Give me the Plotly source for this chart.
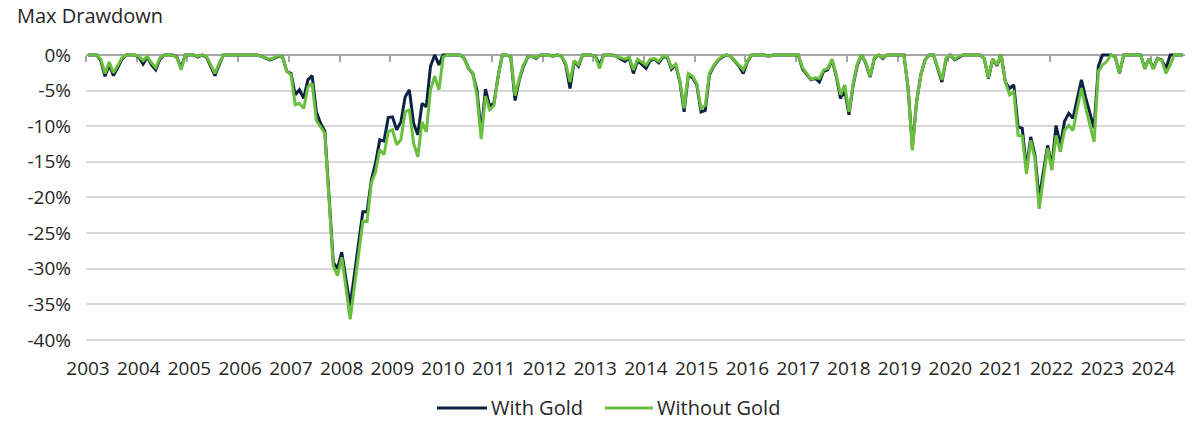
import plotly.graph_objects as go

# Monthly max drawdown (%), one row per label-year
with_gold = [
    0, 0, 0, -0.8, -3.0, -1.4, -2.9, -1.8, -0.6, 0, 0, 0,
    -0.3, -1.3, -0.3, -1.4, -2.1, -0.6, 0, 0, 0, -0.3, -1.8, 0,
    0, 0, -0.3, 0, -0.3, -1.6, -2.9, -1.4, 0, 0, 0, 0,
    0, 0, 0, 0, 0, -0.2, -0.5, -0.7, -0.5, -0.2, -0.3, -2.3,
    -2.6, -5.6, -4.9, -6.1, -3.5, -2.9, -8.0, -9.6, -10.7, -19.9, -29.1, -30.0,
    -27.7, -31.5, -35.2, -30.8, -26.4, -22.0, -22.0, -17.6, -15.2, -11.9, -12.1, -8.8,
    -8.7, -10.5, -9.4, -5.9, -4.9, -9.6, -11.2, -6.8, -7.3, -1.6, 0, -1.4,
    0, 0, 0, 0, 0, -0.5, -1.9, -2.6, -5.0, -11.0, -4.8, -7.2,
    -6.8, -3.0, 0, 0, -0.3, -6.4, -3.5, -1.6, -0.3, -0.2, -0.5, 0,
    0, 0, -0.2, 0, -0.2, -1.4, -4.7, -0.9, -1.6, 0, 0, 0,
    -0.2, -1.4, 0, 0, 0, -0.2, -0.5, -0.9, -0.4, -2.6, -0.8, -1.3,
    -1.9, -0.8, -0.6, -1.1, -0.3, -0.3, -2.0, -1.4, -3.8, -8.0, -2.8, -3.2,
    -4.2, -8.0, -7.8, -2.8, -1.6, -0.8, -0.3, 0, -0.2, -0.9, -1.6, -2.6,
    -0.9, 0, 0, 0, 0, -0.2, 0, 0, 0, 0, 0, 0,
    0, -2.0, -2.8, -3.5, -3.3, -3.8, -2.3, -2.1, -0.7, -3.0, -6.1, -5.0,
    -8.4, -4.2, -1.4, 0, -1.2, -3.1, -0.5, 0, -0.5, 0, 0, 0,
    0, 0, -4.7, -13.0, -6.6, -2.8, -0.7, 0, 0, -1.8, -3.8, -0.5,
    0, -0.7, -0.3, 0, 0, 0, 0, 0, -0.5, -3.3, -0.6, -1.5,
    0, -3.8, -4.7, -4.2, -10.1, -10.3, -16.0, -11.5, -14.1, -20.2, -16.4, -12.7,
    -15.7, -9.9, -12.7, -9.3, -8.2, -8.9, -6.2, -3.5, -6.0, -8.2, -10.3, -1.6,
    0, 0, 0, -0.3, -2.6, 0, 0, 0, 0, 0, -1.9, -0.5,
    -1.9, -0.5, -0.7, -1.9, 0, 0, 0, 0,
]

without_gold = [
    0, 0, 0, -0.6, -2.6, -1.0, -2.5, -1.5, -0.4, 0, 0, 0,
    -0.2, -0.8, -0.2, -1.1, -1.8, -0.4, 0, 0, 0, -0.4, -2.1, 0,
    0, 0, -0.2, 0, -0.2, -1.3, -2.6, -1.2, 0, 0, 0, 0,
    0, 0, 0, 0, 0, -0.2, -0.4, -0.6, -0.4, -0.1, -0.3, -2.3,
    -2.8, -7.0, -6.8, -7.5, -4.5, -4.0, -9.2, -10.2, -11.0, -20.3, -29.6, -31.0,
    -28.4, -32.7, -37.1, -32.5, -28.0, -23.4, -23.4, -18.0, -16.4, -13.3, -14.0, -10.8,
    -10.5, -12.6, -11.9, -8.0, -7.7, -12.4, -14.3, -9.4, -10.8, -4.9, -3.0, -4.9,
    -0.3, 0, 0, 0, 0, -0.5, -1.9, -2.5, -5.8, -11.8, -5.8, -7.7,
    -7.1, -3.0, 0, 0, -0.3, -5.7, -3.3, -1.4, -0.3, -0.2, -0.4, 0,
    0, 0, -0.2, 0, -0.2, -1.2, -3.8, -0.8, -1.4, 0, 0, 0,
    -0.2, -1.9, 0, 0, 0, -0.2, -0.4, -0.6, -0.3, -2.1, -0.6, -1.0,
    -1.4, -0.6, -0.5, -0.9, -0.2, -0.2, -1.8, -1.3, -3.6, -7.5, -2.6, -3.0,
    -4.0, -7.5, -7.1, -2.6, -1.5, -0.7, -0.2, 0, -0.2, -0.8, -1.4, -2.1,
    -0.8, 0, 0, 0, 0, -0.2, 0, 0, 0, 0, 0, 0,
    0, -1.8, -2.6, -3.4, -3.2, -3.3, -2.1, -1.9, -0.6, -2.8, -5.6, -4.2,
    -8.0, -4.0, -1.2, 0, -1.1, -3.0, -0.4, 0, -0.4, 0, 0, 0,
    0, 0, -4.7, -13.4, -6.6, -2.8, -0.7, 0, 0, -1.7, -3.5, -0.4,
    0, -0.6, -0.2, 0, 0, 0, 0, 0, -0.5, -3.2, -0.6, -1.4,
    0, -3.8, -5.6, -5.2, -11.3, -11.4, -16.7, -12.0, -14.6, -21.6, -17.3, -13.1,
    -16.2, -11.3, -13.6, -10.6, -9.9, -10.6, -7.6, -4.7, -7.4, -10.0, -12.2, -2.3,
    -1.4, -0.9, 0, -0.3, -2.6, 0, 0, 0, 0, 0, -2.0, -0.5,
    -2.0, -0.5, -0.8, -2.6, -1.4, 0, 0, 0,
]

year_labels = [str(y) for y in range(2003, 2025)]
y_tick_values = [0, -5, -10, -15, -20, -25, -30, -35, -40]
y_tick_labels = ["0%", "-5%", "-10%", "-15%", "-20%", "-25%", "-30%", "-35%", "-40%"]
series_names = ["With Gold", "Without Gold"]
chart_title = "Max Drawdown"

n = len(with_gold)
x_idx = list(range(n))
year_boundaries = [12 * k - 0.5 for k in range(len(year_labels))]

FONT = "Open Sans"
TXT = "#262626"
NAVY = "#0D2142"
GREEN = "#6BBF3E"
W, H = 1200, 425
ML, MR, MT, MB = 86, 15, 51, 83
PW, PH = W - ML - MR, H - MT - MB

fig = go.Figure()
fig.add_trace(go.Scatter(x=x_idx, y=with_gold, mode="lines", name=series_names[0],
                         line=dict(color=NAVY, width=3), showlegend=False))
fig.add_trace(go.Scatter(x=x_idx, y=without_gold, mode="lines", name=series_names[1],
                         line=dict(color=GREEN, width=3), showlegend=False))

y_lo, y_hi = -40.3, 0.55
zero_pos = (0 - y_lo) / (y_hi - y_lo)


def px_x(px):
    return (px - ML) / PW


def px_y(py):
    return (H - MB - py) / PH


# legend drawn as sample lines + labels (reference uses long 50px samples)
legend_items = [(437, 487, 489, NAVY), (605, 653, 655, GREEN)]
shapes, annotations = [], []
for (x0, x1, xt, col), name in zip(legend_items, series_names):
    shapes.append(dict(type="line", xref="paper", yref="paper",
                       x0=px_x(x0), x1=px_x(x1), y0=px_y(408), y1=px_y(408),
                       line=dict(color=col, width=3)))
    annotations.append(dict(text=name, xref="paper", yref="paper", x=px_x(xt), y=px_y(407),
                            xanchor="left", yanchor="middle", showarrow=False,
                            font=dict(family=FONT, size=20, color=TXT)))

# chart title, top-left
annotations.append(dict(text=chart_title, xref="paper", yref="paper", x=px_x(15), y=px_y(16),
                        xanchor="left", yanchor="middle", showarrow=False,
                        font=dict(family=FONT, size=20, color=TXT)))

fig.update_layout(
    width=W, height=H,
    margin=dict(l=ML, r=MR, t=MT, b=MB, autoexpand=False),
    paper_bgcolor="white", plot_bgcolor="white",
    font=dict(family=FONT, size=19, color=TXT),
    showlegend=False,
    shapes=shapes,
    annotations=annotations,
    xaxis=dict(range=[-0.5, n - 0.5], anchor="free", position=zero_pos, side="bottom",
               tickmode="array", tickvals=year_boundaries, ticktext=year_labels,
               ticks="outside", ticklen=6, tickwidth=2, tickcolor="#A6A6A6",
               showline=True, linecolor="#A6A6A6", linewidth=2, layer="below traces",
               showgrid=False, zeroline=False, ticklabelstandoff=290, ticklabelshift=2,
               automargin=False, fixedrange=True),
    yaxis=dict(range=[y_lo, y_hi], tickmode="array", tickvals=y_tick_values,
               ticktext=y_tick_labels, showgrid=True, gridcolor="#D9D9D9", gridwidth=2,
               zeroline=False, showline=False, ticks="", ticklabelstandoff=14,
               automargin=False, fixedrange=True),
)

fig.write_html("out.html", config={"displayModeBar": False, "responsive": False},
               post_script="document.body.style.margin='0';")
